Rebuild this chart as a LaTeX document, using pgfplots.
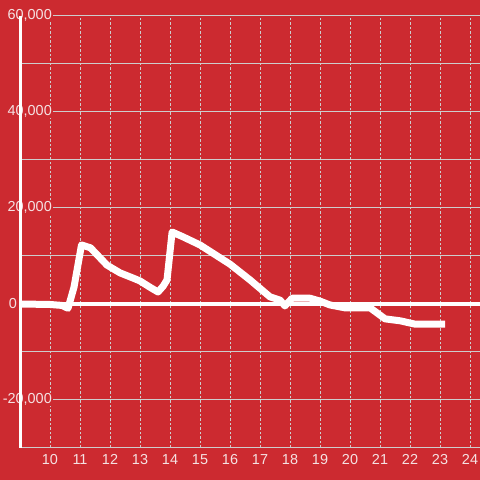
\documentclass[border=0pt]{standalone}
\usepackage{pgfplots}
\pgfplotsset{compat=1.18}
\usepackage{fontspec}
\setmainfont{Liberation Sans}
\definecolor{bgred}{RGB}{204,42,48}
\definecolor{gridc}{RGB}{205,205,205}
\definecolor{labc}{RGB}{245,225,226}
\begin{document}
\begin{tikzpicture}[x=1bp,y=1bp]
\fill[bgred] (0,0) rectangle (480,480);
\useasboundingbox (0,0) rectangle (480,480);
\begin{axis}[
  at={(20bp,32bp)}, anchor=south west,
  scale only axis, width=460bp, height=432bp,
  xmin=9, xmax=24.3333, ymin=-30000, ymax=60000,
  axis line style={draw=none},
  xtick={10,...,24},
  ytick={-20000,20000,40000,60000},
  minor ytick={-30000,-20000,-10000,10000,20000,30000,40000,50000,60000},
  ymajorgrids, yminorgrids, xmajorgrids,
  major y grid style={gridc, line width=1bp},
  minor y grid style={gridc, line width=1bp},
  major x grid style={gridc, line width=1bp, dash pattern=on 2.5bp off 2bp},
  major tick length=0pt, minor tick length=0pt,
  tick label style={font=\fontsize{14.5}{16}\selectfont, text=labc},
  /pgf/number format/assume math mode=true,
  /pgf/number format/1000 sep={,},
  scaled y ticks=false,
  yticklabel style={anchor=east, xshift=33bp, yshift=0.5bp, fill=bgred, inner sep=1bp},
  xticklabel style={anchor=north, yshift=-3bp},
  extra y ticks={0},
  extra y tick labels={0},
  extra y tick style={grid=none, yticklabel style={/tikz/xshift=-35bp}},
  clip=false,
]
\addplot[draw=gridc, line width=1bp, forget plot] coordinates {(9,-30000) (24.3333,-30000)};
\addplot[draw=white, line width=3bp, forget plot] coordinates {(9,-30000) (9,60000)};
\addplot[draw=white, line width=4bp, forget plot] coordinates {(9,0) (24.3333,0)};
\addplot[draw=white, line width=7bp, line join=round, line cap=butt, mark=none] coordinates {
(9.0,0) (10.0,-100) (10.4,-300) (10.6,-900) (10.8,3500) (11.05,12300) (11.35,11700)
(11.9,8100) (12.33,6500) (12.77,5400) (13.0,4800) (13.33,3500) (13.6,2500) (13.77,3700)
(13.9,5000) (14.07,15000) (14.43,14000) (15.0,12300) (16.0,8300) (16.67,5000)
(17.33,1500) (17.67,800) (17.83,-400) (18.07,1200) (18.67,1200) (19.0,600)
(19.33,-200) (19.83,-800) (20.67,-800) (21.17,-3100) (21.67,-3500) (22.17,-4200) (23.17,-4200)
};
\end{axis}
\end{tikzpicture}
\end{document}
